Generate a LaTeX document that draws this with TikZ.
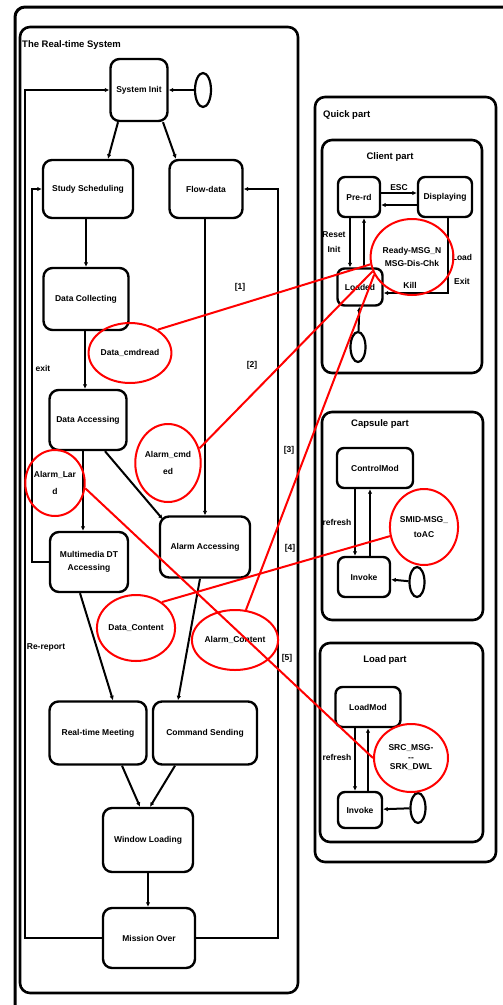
\documentclass[tikz,border=0pt]{standalone}
\usepackage{fontspec}
\usetikzlibrary{shapes.geometric,arrows.meta}
\newfontfamily\lblfont{Liberation Sans}
\newcommand\lbl{\lblfont\bfseries\fontsize{8.5}{9.5}\selectfont}
\newcommand\ttl{\lblfont\bfseries\fontsize{9.5}{10.5}\selectfont}
\tikzset{
 st/.style={draw, line width=2.4pt, rounded corners=9pt, align=center, font=\lbl, inner sep=1pt},
 msg/.style={draw=red, line width=2pt, ellipse, align=center, font=\lbl, inner sep=0pt},
 initst/.style={draw, line width=2.2pt, ellipse, minimum width=16pt, minimum height=34pt, inner sep=0pt},
 frame/.style={draw, line width=2.6pt, rounded corners=10pt},
 tr/.style={line width=2pt, -{Latex[length=4.5pt,width=4.5pt]}},
 rl/.style={red, line width=2pt},
 lab/.style={font=\lbl, inner sep=1pt, align=center},
 ttlab/.style={font=\ttl, inner sep=1pt, anchor=west}
}
\begin{document}
\begin{tikzpicture}[x=1pt,y=-1pt]
\useasboundingbox (0,0) rectangle (503,1005);
\clip (0,0) rectangle (503,1005);
% outer frames
\draw[frame, line width=3pt] (15,7) rectangle (540,1025);
\draw[frame] (20,27) rectangle (298,993);
\node[ttlab] (t0) at (21,45) {The Real-time System};

% left system states
\node[st, minimum width=57pt, minimum height=62pt] (init) at (139,90) {System Init};
\node[initst] (i0) at (203,90) {};
\draw[tr] (i0) -- (init);
\node[st, minimum width=90pt, minimum height=58pt] (study) at (88,189) {Study Scheduling};
\node[st, minimum width=73pt, minimum height=58pt] (flow) at (206,189) {Flow-data};
\draw[tr] ([xshift=-21pt]init.south) -- ([xshift=20pt]study.north);
\draw[tr] ([xshift=24pt]init.south) -- ([xshift=-30pt]flow.north);
\node[st, minimum width=85pt, minimum height=62pt] (dc) at (86,299) {Data Collecting};
\draw[tr] ([xshift=-2pt]study.south) -- ([xshift=-2pt]study.south |- dc.north);
\node[st, minimum width=77pt, minimum height=60pt] (da) at (88,420) {Data Accessing};
\draw[tr] ([xshift=-1pt]dc.south) -- ([xshift=-1pt]dc.south |- da.north);
\node[st, minimum width=78pt, minimum height=60pt] (mm) at (89,562) {Multimedia DT\\[4pt]Accessing};
\draw[tr] ([xshift=-5pt]da.south) -- ([xshift=-5pt]da.south |- mm.north);
\node[st, minimum width=90pt, minimum height=61pt] (aa) at (205,547) {Alarm Accessing};
\draw[tr] ([xshift=17pt]da.south) -- ([xshift=4pt,yshift=-4pt]aa.north west);
\draw[tr] ([xshift=-1pt]flow.south) -- ([xshift=-1pt]flow.south |- aa.north);
\node[st, minimum width=97pt, minimum height=63pt] (rtm) at (98,733) {Real-time Meeting};
\node[st, minimum width=104pt, minimum height=63pt] (cs) at (205,733) {Command Sending};
\draw[tr] ([xshift=-9pt]mm.south) -- ([xshift=15pt]rtm.north);
\draw[tr] ([xshift=-5pt]aa.south) -- ([xshift=-27pt]cs.north);
\node[st, minimum width=90pt, minimum height=64pt] (wl) at (148,840) {Window Loading};
\draw[tr] ([xshift=24pt]rtm.south) -- ([xshift=-8pt]wl.north);
\draw[tr] ([xshift=-30pt]cs.south) -- ([xshift=2pt]wl.north);
\node[st, minimum width=92pt, minimum height=60pt] (mo) at (149,938) {Mission Over};
\draw[tr] (wl.south) -- (wl.south |- mo.north);
% loops
\coordinate (cl) at (25,938);
\coordinate (cr) at (278,938);
\draw[tr] (mo.west) -- (cl) |- (init.west);
\draw[tr] (mo.east) -- (cr) |- (flow.east);
\coordinate (ce) at (32,562);
\draw[tr] (mm.west) -- (ce) |- (study.west);
\node[lab] (exitl) at (43,368) {exit};
\node[lab] (rep) at (46,647) {Re-report};
\node[lab] (n1) at (240,287) {[1]};
\node[lab] (n2) at (252,365) {[2]};
\node[lab] (n3) at (289,450) {[3]};
\node[lab] (n4) at (290,548) {[4]};
\node[lab] (n5) at (287,658) {[5]};

% messages (red)
\node[msg, minimum width=72pt, minimum height=60pt] (m1) at (130,353) {Data\_cmdread};
\node[msg, minimum width=56pt, minimum height=78pt] (m2) at (168,463) {Alarm\_cmd\\[8pt]ed};
\node[msg, minimum width=44pt, minimum height=66pt] (m3) at (55,483) {Alarm\_Lar\\[8pt]d};
\node[msg, minimum width=78pt, minimum height=66pt] (m4) at (136,628) {Data\_Content};
\node[msg, minimum width=84pt, minimum height=60pt] (m5) at (235,640) {Alarm\_Content};

% right side
\draw[frame] (315,97) rectangle (496,862);
\node[ttlab] (t1) at (322,115) {Quick part};

% client part
\draw[frame] (322,140) rectangle (482,373);
\node[lab, font=\ttl] (t2) at (390,157) {Client part};
\node[st, minimum width=42pt, minimum height=40pt, rounded corners=7pt] (pre) at (359,197) {Pre-rd};
\node[st, minimum width=54pt, minimum height=40pt, rounded corners=7pt] (disp) at (445,197) {Displaying};
\node[st, minimum width=45pt, minimum height=37pt, rounded corners=7pt] (idle) at (360,287) {Loaded};
\draw[tr] ([yshift=4pt]pre.east) -- node[lab, above] {ESC} ([yshift=4pt]disp.west);
\draw[tr] ([yshift=-8pt]disp.west) -- ([yshift=-8pt]pre.east);
\draw[tr] ([xshift=-9pt]pre.south) -- ([xshift=-9pt]pre.south |- idle.north);
\draw[tr] ([xshift=4pt]idle.north) -- ([xshift=4pt]idle.north |- pre.south);
\node[lab] (rst) at (334,242) {Reset\\[6pt]Init};
\draw[tr] ([xshift=3pt]disp.south) |- ([yshift=-6pt]idle.east);
\node[lab] (kill) at (410,285) {Kill};
\node[lab] (ld) at (462,257) {Load};
\node[lab] (ex) at (462,281) {Exit};
\node[initst, minimum width=15pt, minimum height=30pt] (i1) at (358,347) {};
\draw[tr] (i1) -- (idle);
\node[msg, minimum width=72pt, minimum height=76pt] (m6) at (412,257) {Ready-MSG\_N\\[4pt]MSG-Dis-Chk};

% capsule part
\draw[frame] (322,412) rectangle (483,620);
\node[lab, font=\ttl] (t3) at (380,424) {Capsule part};
\node[st, minimum width=76pt, minimum height=40pt, rounded corners=7pt] (ctrl) at (375,468) {ControlMod};
\node[st, minimum width=52pt, minimum height=40pt, rounded corners=7pt] (inv1) at (364,577) {Invoke};
\node[initst, minimum width=15pt, minimum height=30pt] (i2) at (417,582) {};
\draw[tr] (i2) -- (inv1);
\draw[tr] ([xshift=-20pt]ctrl.south) -- ([xshift=-9pt]inv1.north);
\draw[tr] ([xshift=6pt]inv1.north) -- ([xshift=-5pt]ctrl.south);
\node[lab] (rf1) at (337,522) {refresh};
\node[msg, minimum width=68pt, minimum height=76pt] (m7) at (424,527) {SMID-MSG\_\\[6pt]toAC};

% load part
\draw[frame] (320,643) rectangle (483,842);
\node[lab, font=\ttl] (t4) at (385,660) {Load part};
\node[st, minimum width=65pt, minimum height=40pt, rounded corners=7pt] (lm) at (368,707) {LoadMod};
\node[st, minimum width=44pt, minimum height=36pt, rounded corners=7pt] (inv2) at (360,810) {Invoke};
\node[initst, minimum width=15pt, minimum height=30pt] (i3) at (418,808) {};
\draw[tr] (i3) -- (inv2);
\draw[tr] ([xshift=-13pt]lm.south) -- ([xshift=-5pt]inv2.north);
\draw[tr] ([xshift=8pt]inv2.north) -- ([xshift=0pt]lm.south);
\node[lab] (rf2) at (337,757) {refresh};
\node[msg, minimum width=74pt, minimum height=68pt] (m8) at (411,758) {SRC\_MSG-\\--\\SRK\_DWL};

% red connectors
\draw[rl] (m1.40) -- (m6.190);
\draw[rl] (m2.25) -- (m6.200);
\draw[rl] (m5.70) -- (m6.205);
\draw[rl] (m4.45) -- (m7.195);
\draw[rl] (m3.-10) -- (m8.west);
\end{tikzpicture}
\end{document}
